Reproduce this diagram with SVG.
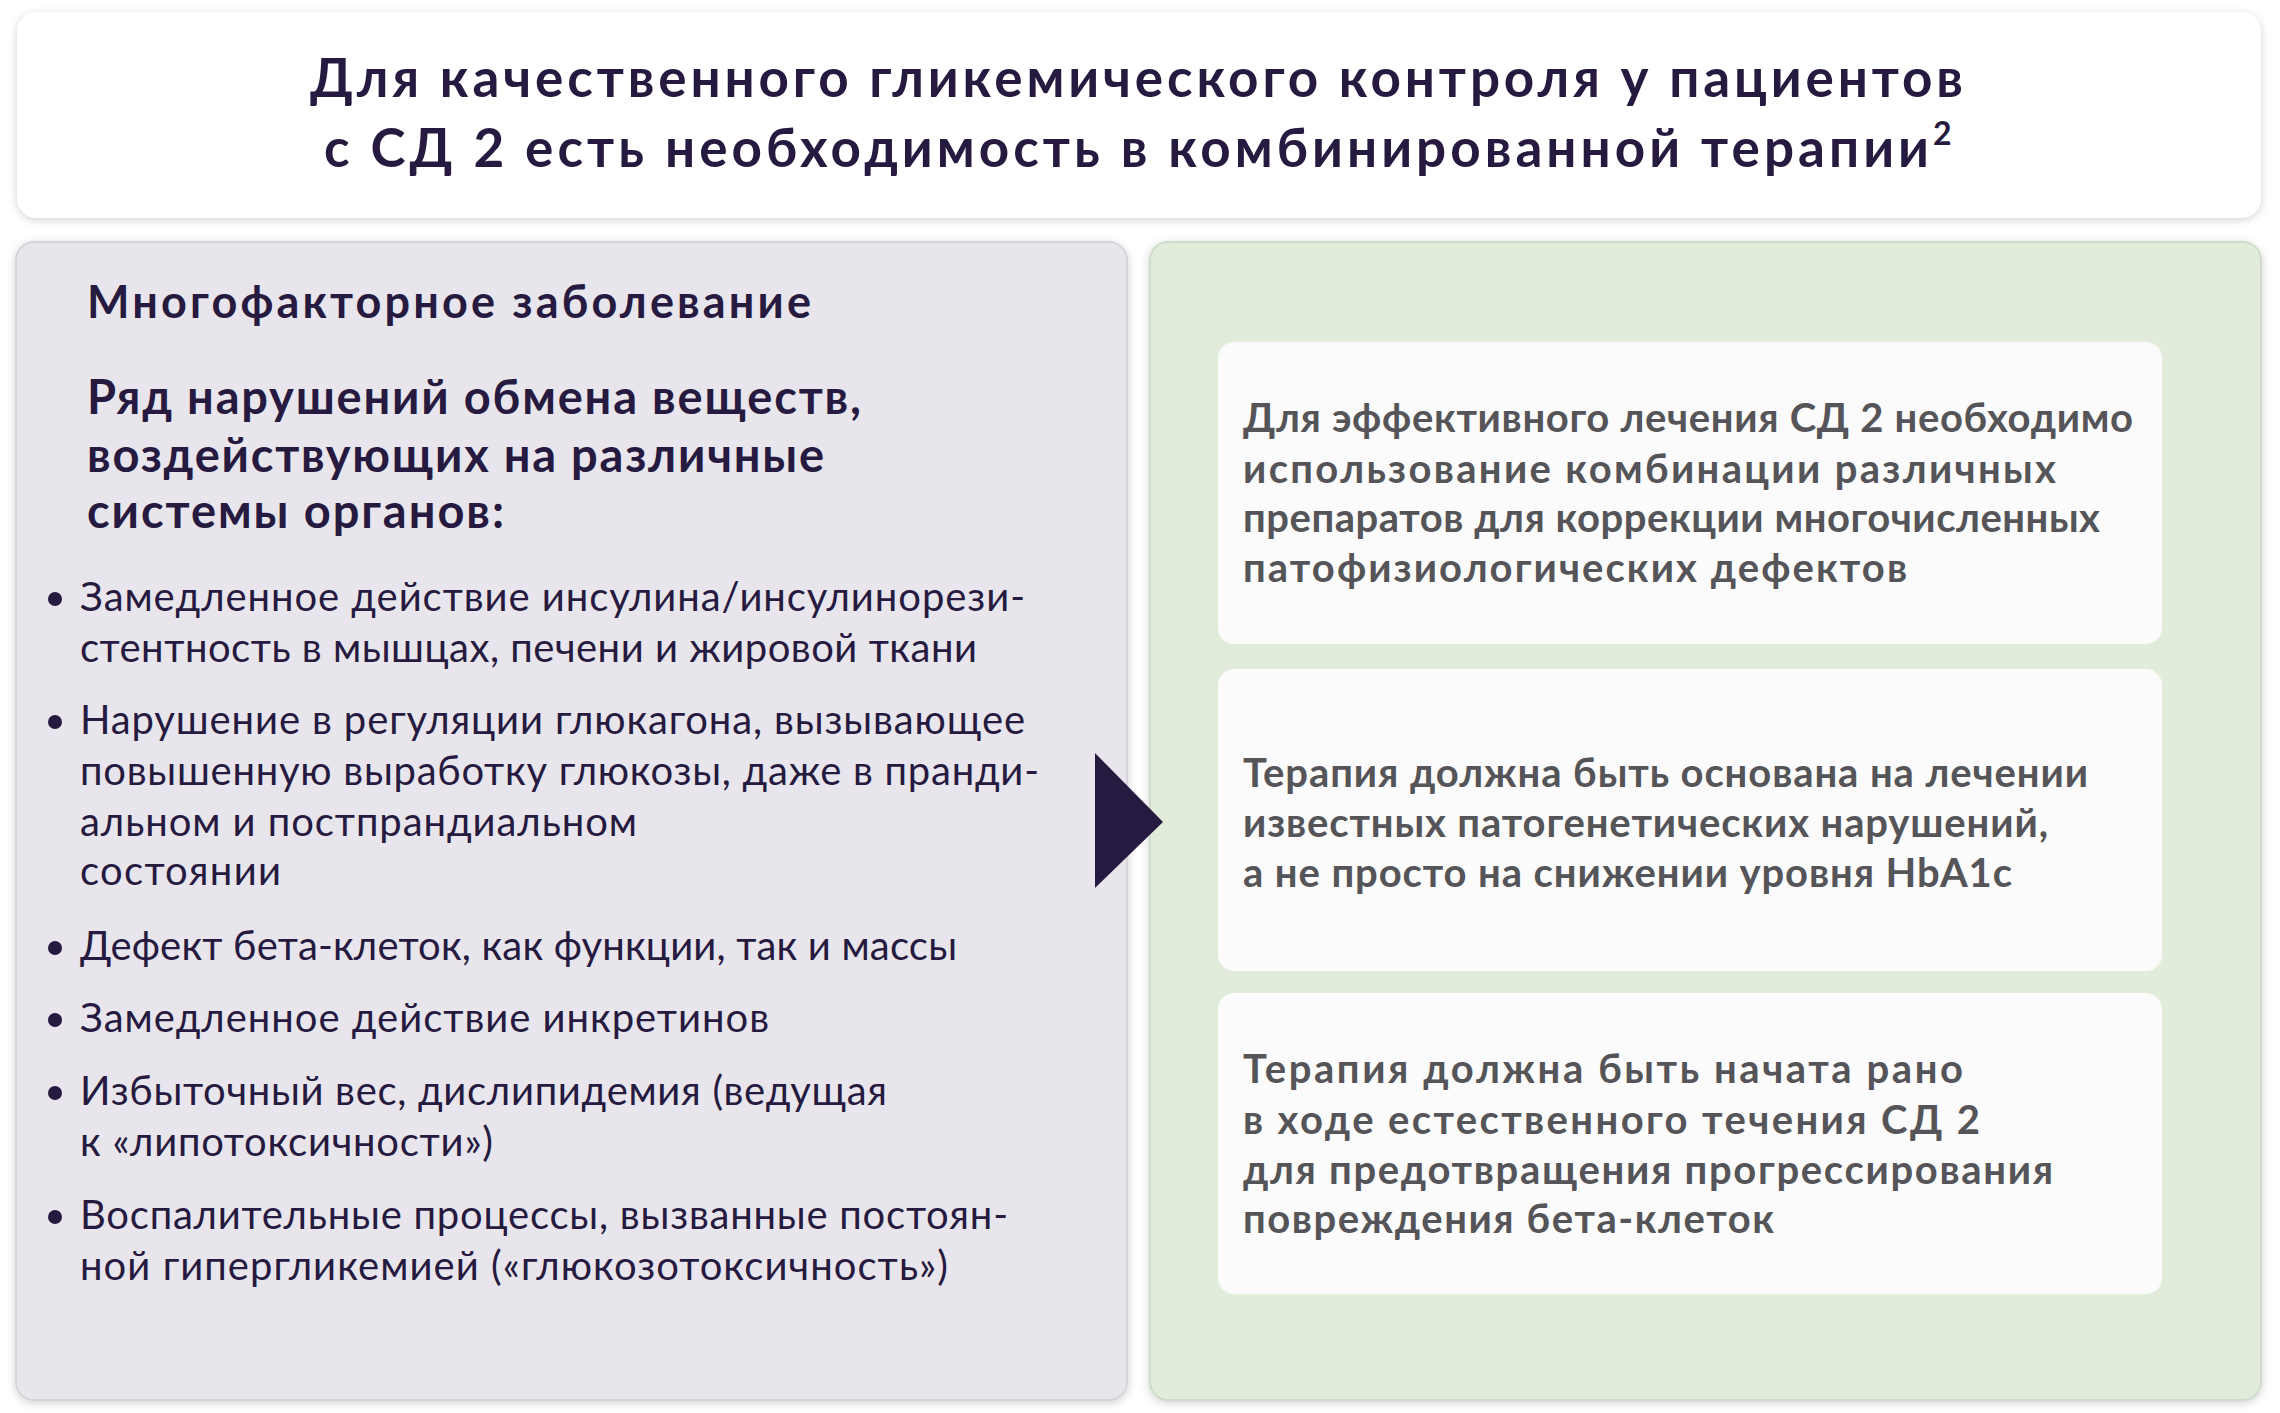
<svg xmlns="http://www.w3.org/2000/svg" width="2280" height="1413" viewBox="0 0 2280 1413">
<style>
.t{font-family:Lato,"Open Sans","Liberation Sans",sans-serif;fill:#261a40}
.b{font-weight:700}
.li{font-size:40px;font-weight:400}
.c{font-family:Lato,"Open Sans","Liberation Sans",sans-serif;font-size:40px;font-weight:700;fill:#555458}
.card{fill:#fbfbfb}
</style>
<defs><filter id="sh" x="-5%" y="-5%" width="110%" height="110%"><feDropShadow dx="0" dy="2" stdDeviation="4" flood-color="#000" flood-opacity="0.18"/></filter></defs>
<rect width="2280" height="1413" fill="#ffffff"/>
<g id="header">
<rect x="17" y="12" width="2244" height="206" rx="20" fill="#fff" filter="url(#sh)"/>
<text class="t b" x="310" y="97" font-size="53" textLength="1653" lengthAdjust="spacing">Для качественного гликемического контроля у пациентов</text>
<text class="t b" y="167" font-size="53"><tspan x="324" textLength="1605" lengthAdjust="spacing">с СД 2 есть необходимость в комбинированной терапии</tspan><tspan font-size="32" dy="-22">2</tspan></text>
</g>
<g id="left">
<rect x="16" y="242" width="1111" height="1158" rx="18" fill="#e8e6ec" stroke="#d6d4da" stroke-width="2" filter="url(#sh)"/>
<text class="t b" x="87" y="318" font-size="45" textLength="724" lengthAdjust="spacing">Многофакторное заболевание</text>
<text class="t b" font-size="47"><tspan x="87" y="414" textLength="774" lengthAdjust="spacing">Ряд нарушений обмена веществ,</tspan><tspan x="87" y="472" textLength="737" lengthAdjust="spacing">воздействующих на различные</tspan><tspan x="87" y="528" textLength="417" lengthAdjust="spacing">системы органов:</tspan></text>
<g class="t li">
<circle cx="55" cy="599" r="7" fill="#261a40"/><text x="80" y="611" textLength="945" lengthAdjust="spacing">Замедленное действие инсулина/инсулинорези-</text><text x="80" y="662" textLength="897" lengthAdjust="spacing">стентность в мышцах, печени и жировой ткани</text>
<circle cx="55" cy="722" r="7" fill="#261a40"/><text x="80" y="734" textLength="945" lengthAdjust="spacing">Нарушение в регуляции глюкагона, вызывающее</text><text x="80" y="785" textLength="959" lengthAdjust="spacing">повышенную выработку глюкозы, даже в пранди-</text><text x="80" y="836" textLength="557" lengthAdjust="spacing">альном и постпрандиальном</text><text x="80" y="885" textLength="201" lengthAdjust="spacing">состоянии</text>
<circle cx="55" cy="948" r="7" fill="#261a40"/><text x="80" y="960" textLength="877" lengthAdjust="spacing">Дефект бета-клеток, как функции, так и массы</text>
<circle cx="55" cy="1020" r="7" fill="#261a40"/><text x="80" y="1032" textLength="689" lengthAdjust="spacing">Замедленное действие инкретинов</text>
<circle cx="55" cy="1093" r="7" fill="#261a40"/><text x="80" y="1105" textLength="807" lengthAdjust="spacing">Избыточный вес, дислипидемия (ведущая</text><text x="80" y="1156" textLength="413" lengthAdjust="spacing">к «липотоксичности»)</text>
<circle cx="55" cy="1217" r="7" fill="#261a40"/><text x="80" y="1229" textLength="928" lengthAdjust="spacing">Воспалительные процессы, вызванные постоян-</text><text x="80" y="1280" textLength="868" lengthAdjust="spacing">ной гипергликемией («глюкозотоксичность»)</text>
</g>
</g>
<g id="right">
<rect x="1150" y="242" width="1111" height="1158" rx="18" fill="#e1ecda" stroke="#d0dccb" stroke-width="2" filter="url(#sh)"/>
</g>
<g id="card1"><rect class="card" x="1218" y="342" width="944" height="302" rx="16"/>
<text class="c"><tspan x="1243" y="432" textLength="890" lengthAdjust="spacing">Для эффективного лечения СД 2 необходимо</tspan><tspan x="1243" y="483" textLength="813" lengthAdjust="spacing">использование комбинации различных</tspan><tspan x="1243" y="532" textLength="857" lengthAdjust="spacing">препаратов для коррекции многочисленных</tspan><tspan x="1243" y="582" textLength="664" lengthAdjust="spacing">патофизиологических дефектов</tspan></text></g>
<g id="card2"><rect class="card" x="1218" y="669" width="944" height="302" rx="16"/>
<text class="c"><tspan x="1243" y="787" textLength="845" lengthAdjust="spacing">Терапия должна быть основана на лечении</tspan><tspan x="1243" y="837" textLength="805" lengthAdjust="spacing">известных патогенетических нарушений,</tspan><tspan x="1243" y="887" textLength="769" lengthAdjust="spacing">а не просто на снижении уровня HbA1c</tspan></text></g>
<g id="card3"><rect class="card" x="1218" y="993" width="944" height="301" rx="16"/>
<text class="c"><tspan x="1243" y="1083" textLength="720" lengthAdjust="spacing">Терапия должна быть начата рано</tspan><tspan x="1243" y="1134" textLength="737" lengthAdjust="spacing">в ходе естественного течения СД 2</tspan><tspan x="1243" y="1184" textLength="810" lengthAdjust="spacing">для предотвращения прогрессирования</tspan><tspan x="1243" y="1233" textLength="531" lengthAdjust="spacing">повреждения бета-клеток</tspan></text></g>
<g id="connectors"><polygon points="1095,753 1163,822 1095,888" fill="#261a40"/></g>
</svg>
